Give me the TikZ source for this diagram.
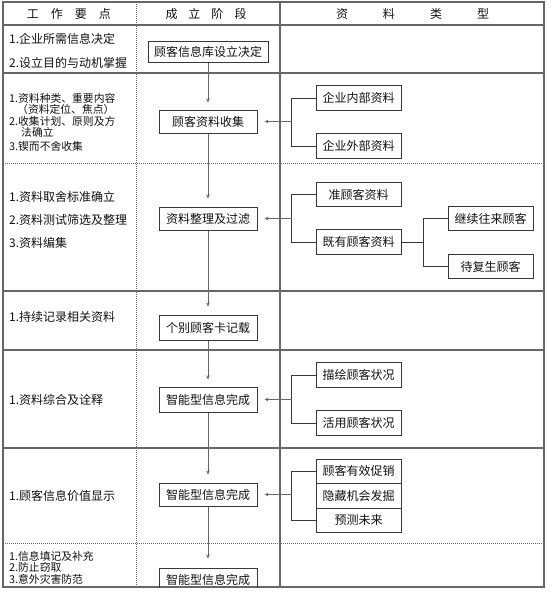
\documentclass[tikz,border=0pt]{standalone}
\usepackage{fontspec}
\setmainfont{Noto Sans CJK SC}
\usetikzlibrary{arrows.meta}
\definecolor{gridc}{HTML}{666666}
\definecolor{boxc}{HTML}{383838}
\definecolor{txtc}{HTML}{111111}
\begin{document}
\begin{tikzpicture}[x=1pt,y=-1pt,
  every node/.style={text=txtc,font=\fontsize{12pt}{14pt}\selectfont,inner sep=0pt},
  grid/.style={draw=gridc,line width=1.1pt},
  dgrid/.style={draw=gridc,line width=1pt,densely dotted},
  midbox/.style={draw=boxc,line width=1pt,minimum width=98pt,minimum height=24pt},
  rbox/.style={draw=boxc,line width=1pt,minimum width=85pt,minimum height=24.5pt},
  lt/.style={anchor=west},
  ltt/.style={anchor=west,font=\fontsize{10.8pt}{12pt}\selectfont},
  conn/.style={draw=boxc,line width=1pt},
  arr/.style={draw=gridc,line width=1pt,-{Stealth[length=4pt,width=3.5pt]}}]
\useasboundingbox (0,0) rectangle (550,597);
% table
\draw[grid] (3,2) rectangle (544,587);
\foreach \yy in {25,73,291,350,448} \draw[grid] (3,\yy) -- (544,\yy);
\foreach \yy in {163,543} \draw[dgrid] (3,\yy) -- (544,\yy);
\draw[dgrid] (136,2) -- (136,587);
\draw[grid] (280,2) -- (280,587);
% headers
\node (h1) at (69,14) {工\hspace{12pt}作\hspace{12pt}要\hspace{12pt}点};
\node (h2) at (206,14) {成\hspace{11pt}立\hspace{11pt}阶\hspace{11pt}段};
\node (h3) at (412.5,14) {资\hspace{35pt}料\hspace{35pt}类\hspace{35pt}型};
% left column
\node[lt] (l1a) at (9,39) {1.企业所需信息决定};
\node[lt] (l1b) at (9,63) {2.设立目的与动机掌握};
\node[ltt] (l2a) at (9,98) {1.资料种类、重要内容};
\node[ltt] (l2b) at (17,109) {（资料定位、焦点）};
\node[ltt] (l2c) at (9,121) {2.收集计划、原则及方};
\node[ltt] (l2d) at (21,132) {法确立};
\node[ltt] (l2e) at (9,146) {3.锲而不舍收集};
\node[lt] (l3a) at (9,197) {1.资料取舍标准确立};
\node[lt] (l3b) at (9,220) {2.资料测试筛选及整理};
\node[lt] (l3c) at (9,243) {3.资料编集};
\node[lt] (l4a) at (9,317) {1.持续记录相关资料};
\node[lt] (l5a) at (9,400) {1.资料综合及诠释};
\node[lt] (l6a) at (9,496) {1.顾客信息价值显示};
\node[ltt] (l7a) at (9,556) {1.信息填记及补充};
\node[ltt] (l7b) at (9,567.5) {2.防止窃取};
\node[ltt] (l7c) at (9,579) {3.意外灾害防范};
% middle column
\node[midbox,minimum width=120pt,minimum height=21pt] (b1) at (208,51.5) {顾客信息库设立决定};
\node[midbox,minimum height=23pt] (b2) at (208,121.5) {顾客资料收集};
\node[midbox,minimum height=23pt] (b3) at (208,218.5) {资料整理及过滤};
\node[midbox,minimum height=25pt] (b4) at (208,327.5) {个别顾客卡记载};
\node[midbox,minimum height=25pt] (b5) at (208,399.5) {智能型信息完成};
\node[midbox,minimum height=23pt] (b6) at (208,494.5) {智能型信息完成};
\begin{scope}
\clip (0,0) rectangle (550,587);
\node[midbox] (b7) at (208,580) {智能型信息完成};
\end{scope}
\draw[arr] (b1.south) -- ([yshift=7pt]b2.north);
\draw[arr] (b2.south) -- ([yshift=8pt]b3.north);
\draw[arr] (b3.south) -- ([yshift=8pt]b4.north);
\draw[arr] (b4.south) -- ([yshift=7pt]b5.north);
\draw[arr] (b5.south) -- ([yshift=8pt]b6.north);
\draw[arr] (b6.south) -- ([yshift=9pt]b7.north);
% right column
\node[rbox] (r1) at (358.5,98) {企业内部资料};
\node[rbox] (r2) at (358.5,146) {企业外部资料};
\node[rbox] (r3) at (358.5,194.5) {准顾客资料};
\node[rbox] (r4) at (358.5,242) {既有顾客资料};
\node[rbox] (r5) at (490.5,218.5) {继续往来顾客};
\node[rbox] (r6) at (490.5,266.5) {待复生顾客};
\node[rbox] (r7) at (358.5,375) {描绘顾客状况};
\node[rbox] (r8) at (358.5,423) {活用顾客状况};
\node[rbox] (r9) at (358.5,471.25) {顾客有效促销};
\node[rbox] (r10) at (358.5,495.75) {隐藏机会发掘};
\node[rbox] (r11) at (358.5,520.25) {预测未来};
% brackets
\draw[conn] (r1.west) -- ++(-24,0) |- (r2.west);
\coordinate (j2) at (292,121.5);
\draw[arr] (j2) -- ([xshift=7pt]b2.east);
\draw[conn] (r3.west) -- ++(-24,0) |- (r4.west);
\coordinate (j3) at (292,218.5);
\draw[arr] (j3) -- ([xshift=7pt]b3.east);
\draw[conn] (r5.west) -- ++(-24,0) |- (r6.west);
\coordinate (k3) at (424,242);
\draw[conn] (r4.east) -- (k3);
\draw[conn] (r7.west) -- ++(-24,0) |- (r8.west);
\coordinate (j5) at (292,399.5);
\draw[arr] (j5) -- ([xshift=7pt]b5.east);
\draw[conn] (r9.west) -- ++(-24,0) |- (r11.west);
\coordinate (j6) at (292,494.5);
\draw[arr] (j6) -- ([xshift=7pt]b6.east);
\end{tikzpicture}
\end{document}
